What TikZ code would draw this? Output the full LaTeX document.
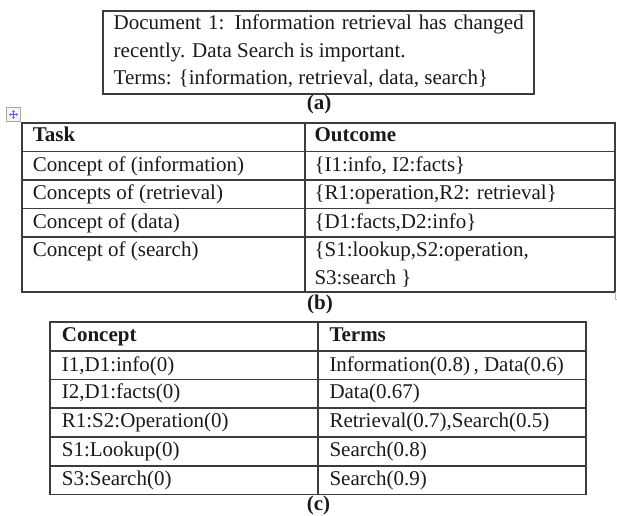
\documentclass[tikz,border=0pt]{standalone}
\usepackage{fontspec}
\setmainfont{Liberation Serif}
\usetikzlibrary{arrows.meta}
\definecolor{rule}{HTML}{3C3C3C}
\definecolor{ink}{HTML}{1A1A1A}
\tikzset{
  grid/.style={draw=rule, line width=1.3pt},
  cell/.style={anchor=base west, inner sep=0pt, text=ink, font=\fontsize{21}{27}\selectfont},
  head/.style={cell, font=\fontsize{21}{27}\selectfont\bfseries},
  caption/.style={anchor=base, inner sep=0pt, text=ink, font=\fontsize{21}{27}\selectfont\bfseries},
}
\begin{document}
\begin{tikzpicture}[x=1pt, y=-1pt]
\useasboundingbox (0,0) rectangle (617,515);

% (a) document box
\draw[grid] (103,11) rectangle (534,94);
\node[cell] (d1) at (113.5,29.5) {\makebox[410pt][s]{Document 1: Information retrieval has changed}};
\node[cell] (d2) at (113.5,57) {recently. Data Search is important.};
\node[cell] (d3) at (113.5,84) {Terms: \{information, retrieval, data, search\}};
\node[caption] (capa) at (319,109) {(a)};

% table move handle
\draw[gray!70, fill=gray!8, line width=0.6pt] (6.5,107.5) rectangle (20.5,121.5);
\foreach \dx/\dy in {4.5/0,-4.5/0,0/4.5,0/-4.5}
  \draw[blue!65, line width=0.8pt, -{Stealth[length=2.2pt,width=2.8pt]}] (13.5,114.5) -- ++(\dx,\dy);

% (b) task / outcome table
\draw[grid] (22,123) rectangle (615,292);
\foreach \y in {151.5,180,208.5,237} \draw[grid] (22,\y) -- (615,\y);
\draw[grid] (305,123) -- (305,292);
\draw[gray!55, line width=0.8pt] (615,292) -- (615,299) -- (617,299);

\node[head] (bh1) at (32.7,141.7) {Task};
\node[head] (bh2) at (314.3,141.7) {Outcome};
\node[cell] (b11) at (32.7,171) {Concept of (information)};
\node[cell] (b12) at (314.3,171) {\{I1:info, I2:facts\}};
\node[cell] (b21) at (32.7,199.5) {Concepts of (retrieval)};
\node[cell] (b22) at (314.3,199.5) {\{R1:operation,R2: retrieval\}};
\node[cell] (b31) at (32.7,228.3) {Concept of (data)};
\node[cell] (b32) at (314.3,228.3) {\{D1:facts,D2:info\}};
\node[cell] (b41) at (32.7,256.7) {Concept of (search)};
\node[cell] (b42) at (314.3,256.7) {\{S1:lookup,S2:operation,};
\node[cell] (b43) at (314.3,284) {S3:search \}};
\node[caption] (capb) at (320,309) {(b)};

% (c) concept / terms table
\draw[grid] (50,322) rectangle (586,494.5);
\foreach \y in {351,379.5,408,437,466} \draw[grid] (50,\y) -- (586,\y);
\draw[grid] (318,322) -- (318,494.5);

\node[head] (ch1) at (61.7,341) {Concept};
\node[head] (ch2) at (329.3,341) {Terms};
\node[cell] (c11) at (61.7,371) {I1,D1:info(0)};
\node[cell] (c12) at (329.3,371) {Information(0.8)\,, Data(0.6)};
\node[cell] (c21) at (61.7,398.5) {I2,D1:facts(0)};
\node[cell] (c22) at (329.3,398.5) {Data(0.67)};
\node[cell] (c31) at (61.7,427.5) {R1:S2:Operation(0)};
\node[cell] (c32) at (329.3,427.5) {Retrieval(0.7),Search(0.5)};
\node[cell] (c41) at (61.7,456.5) {S1:Lookup(0)};
\node[cell] (c42) at (329.3,456.5) {Search(0.8)};
\node[cell] (c51) at (61.7,485) {S3:Search(0)};
\node[cell] (c52) at (329.3,485) {Search(0.9)};
\node[caption] (capc) at (318.5,510.5) {(c)};
\end{tikzpicture}
\end{document}
